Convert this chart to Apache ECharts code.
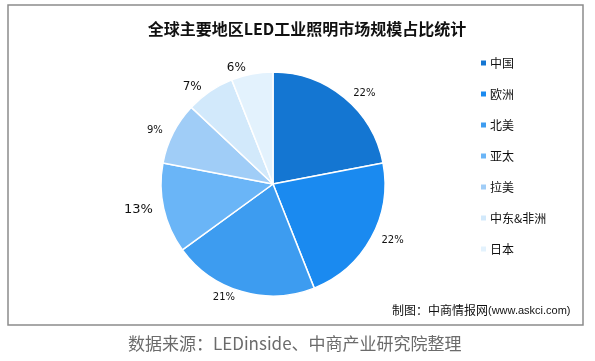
<!DOCTYPE html>
<html>
<head>
<meta charset="utf-8">
<script src="https://cdn.jsdelivr.net/npm/echarts@6/dist/echarts.min.js"></script>
<style>html,body{margin:0;padding:0;background:#fff;}#c{width:595px;height:361px;}</style>
</head>
<body>
<div id="c"></div>
<script>
var categories = ['中国', '欧洲', '北美', '亚太', '拉美', '中东&非洲', '日本'];
var shares = [22, 22, 21, 13, 9, 7, 6];
var colors = ['#1476d2', '#1a8af0', '#3d9cf0', '#6ab5f7', '#a0cdf7', '#d2e9fb', '#e3f2fd'];
var labelSizes = [10, 10, 10, 13, 10, 12, 12];

var chart = echarts.init(document.getElementById('c'), null, {renderer: 'canvas'});
var data = categories.map(function (n, i) {
  return {
    name: n,
    value: shares[i],
    itemStyle: {color: colors[i]},
    label: {fontSize: labelSizes[i]}
  };
});
chart.setOption({
  animation: false,
  backgroundColor: '#fff',
  title: {
    text: '全球主要地区LED工业照明市场规模占比统计',
    left: 302, top: 16, textAlign: 'center',
    textStyle: {fontSize: 16, fontWeight: 'bold', color: '#111', fontFamily: '"Noto Sans CJK SC", sans-serif'}
  },
  legend: {
    orient: 'vertical', left: 474, top: 52,
    itemWidth: 7, itemHeight: 7, itemGap: 19, icon: 'rect',
    textStyle: {fontSize: 12, color: '#111', fontFamily: '"Noto Sans CJK SC", sans-serif', padding: [0, 0, 0, -2]},
    data: categories
  },
  graphic: [
    {type: 'rect', shape: {x: 8, y: 5, width: 575, height: 320}, style: {fill: 'none', stroke: '#8c8c8c', lineWidth: 1.5}, z: -1},
    {type: 'text', left: 392, top: 304, style: {text: '制图：中商情报网', fontSize: 12, fill: '#111', fontFamily: '"Noto Sans CJK SC", sans-serif'}},
    {type: 'text', left: 488, top: 305, style: {text: '(www.askci.com)', fontSize: 11, fill: '#111', fontFamily: 'Arial, "Liberation Sans", sans-serif'}},
    {type: 'text', left: 128, top: 335, style: {text: '数据来源：LEDinside、中商产业研究院整理', fontSize: 17, fill: '#6b6b6b', fontFamily: '"Noto Sans CJK SC", sans-serif'}}
  ],
  series: [{
    type: 'pie',
    center: [273, 184],
    radius: [0, 112],
    startAngle: 90,
    clockwise: true,
    itemStyle: {borderColor: '#fff', borderWidth: 1.5},
    label: {
      show: true, position: 'outside', formatter: '{c}%',
      color: '#111', fontFamily: '"DejaVu Sans", sans-serif'
    },
    labelLine: {show: false, length: 6, length2: 0},
    emphasis: {disabled: true},
    data: data
  }]
});
</script>
</body>
</html>
